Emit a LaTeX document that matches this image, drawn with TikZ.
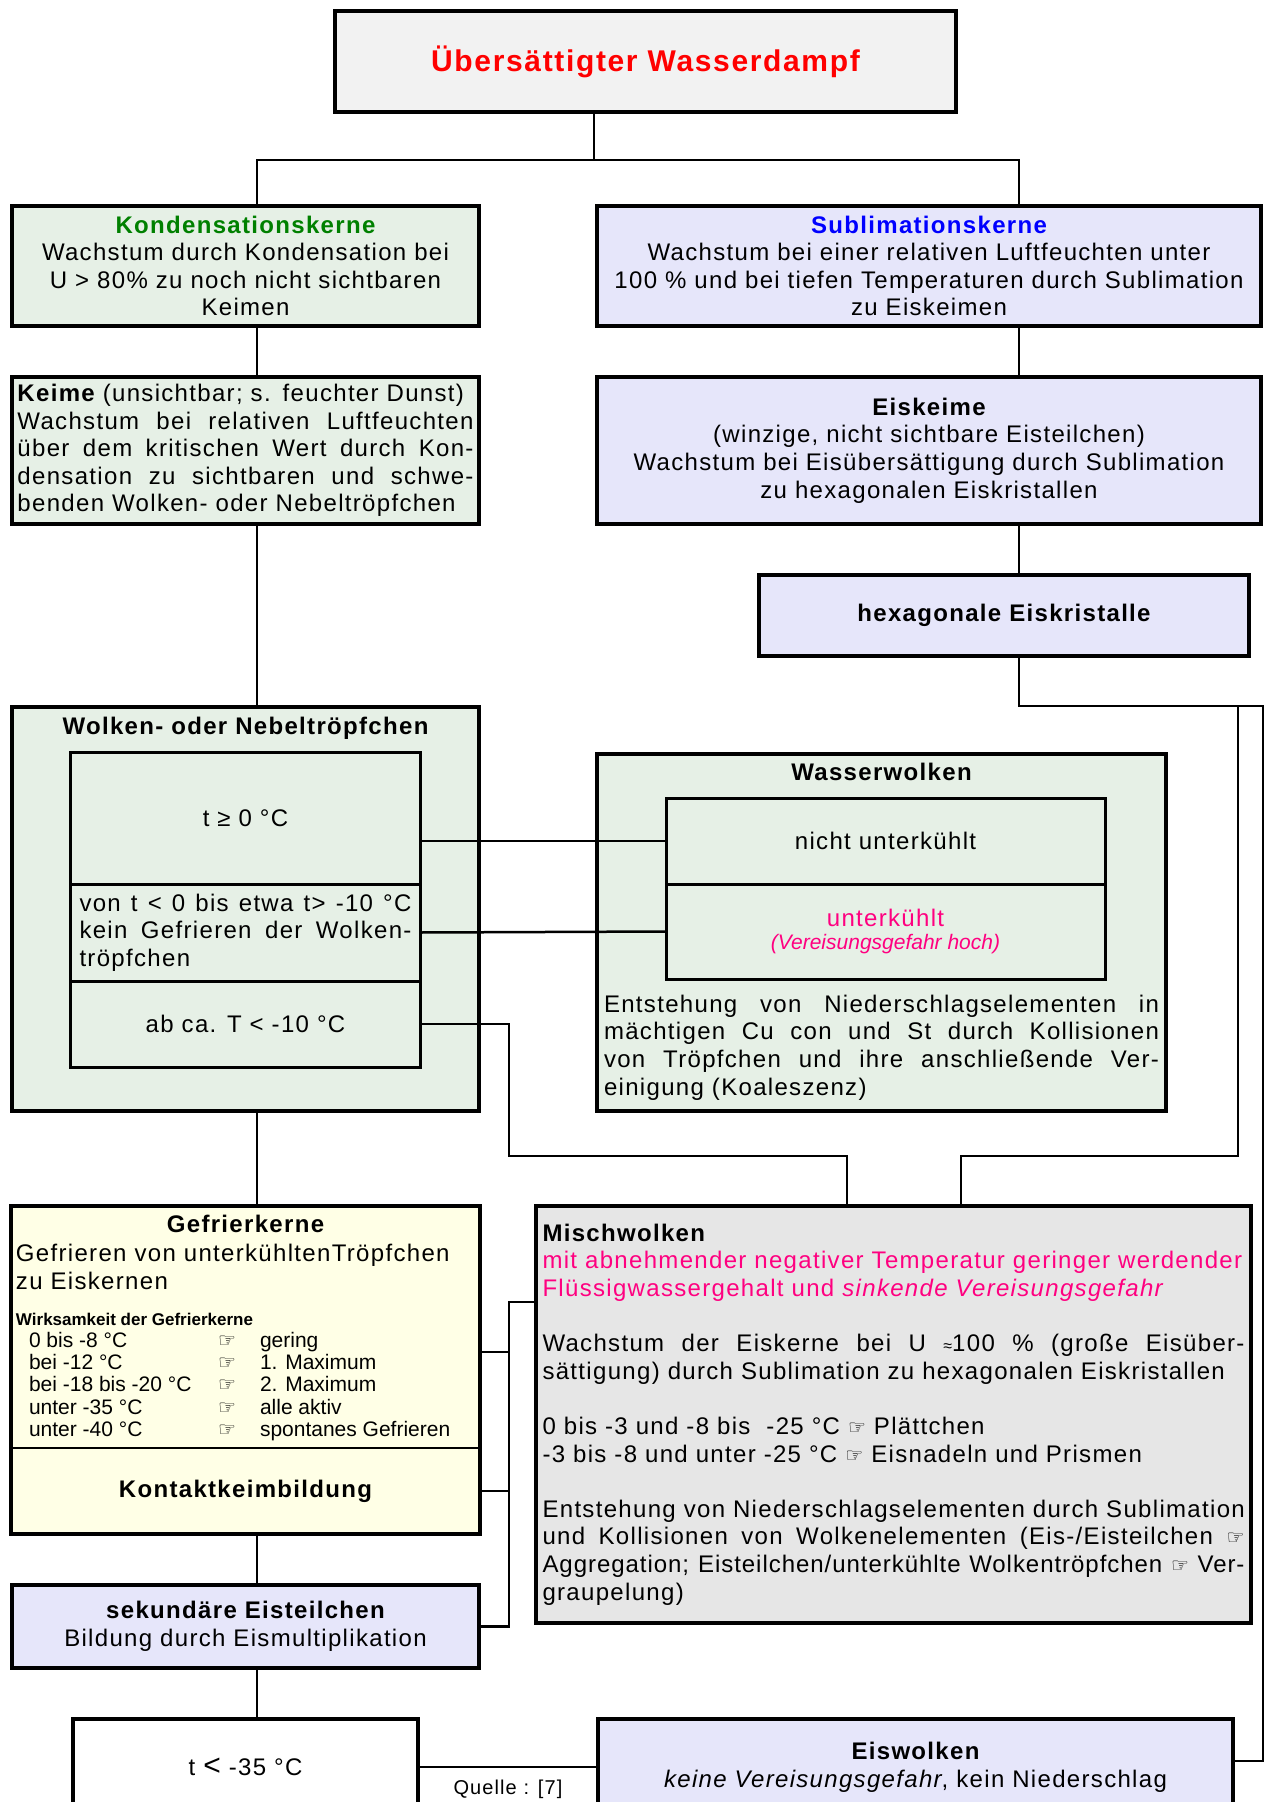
\documentclass[tikz,border=0pt]{standalone}
\usepackage{fontspec}
\setmainfont[LetterSpace=5.5]{Liberation Sans}
\newfontfamily\tightfont{Liberation Sans}
\newfontfamily\midfont[LetterSpace=4]{Liberation Sans}
\newfontfamily\handfont{DejaVu Sans}
\usetikzlibrary{positioning,calc}

\definecolor{vaporgray}{HTML}{F2F2F2}
\definecolor{dropgreen}{HTML}{E6F0E6}
\definecolor{icelilac}{HTML}{E6E6FA}
\definecolor{frostyellow}{HTML}{FFFFE6}
\definecolor{mixgray}{HTML}{E6E6E6}
\definecolor{kerngreen}{HTML}{008000}
\definecolor{hotpink}{HTML}{FF0080}

\newcommand{\hand}{{\handfont\fontsize{10}{10}\selectfont ☞}}
\newcommand{\approxsym}{{\fontsize{8}{8}\selectfont ≈}}
% Blocksatzzeile: Wortabstaende auf die volle Breite dehnen
\newcommand{\jline}[2]{\leavevmode\hbox to #1{\spaceskip=\fontdimen2\font plus 1fil\relax #2}}

\tikzset{
  box/.style={draw, line width=2.4pt, outer sep=0pt, inner sep=0pt, align=center,
    font=\fontsize{12}{13.8}\selectfont},
  cell/.style={draw, line width=1.5pt, outer sep=0pt, inner sep=0pt, align=center,
    font=\fontsize{12}{13.8}\selectfont},
  plain/.style={inner sep=0pt, outer sep=0pt, font=\fontsize{12}{13.8}\selectfont},
  heading/.style={plain, font=\fontsize{12}{13.8}\selectfont\bfseries},
  link/.style={line width=1.25pt}
}

\begin{document}
\begin{tikzpicture}[x=0.5pt,y=-0.5pt,on grid]
	\useasboundingbox (0,0) rectangle (1266,1802);
	\clip (0,0) rectangle (1266,1802);

	\node[box,fill=vaporgray,minimum width=310.5pt,minimum height=50.5pt,text=red,
		font=\fontsize{15}{18}\selectfont\bfseries] (vapor) at (645.5,61.5) {Übersättigter Wasserdampf};

	% linke Spalte
	\node[box,fill=dropgreen,minimum width=233.5pt,minimum height=60pt] (kond) at (245.5,266)
		{{\color{kerngreen}\bfseries Kondensationskerne}\\Wachstum durch Kondensation bei\\U > 80\% zu noch nicht sichtbaren\\Keimen};
	\node[box,fill=dropgreen,minimum width=233.5pt,minimum height=73.5pt,text width=228pt,align=left,
		below=92.25pt of kond] (keime)
		{{\bfseries Keime} (unsichtbar; s. feuchter Dunst)\\
		\jline{228pt}{Wachstum bei relativen Luftfeuchten}\\
		\jline{228pt}{über dem kritischen Wert durch Kon-}\\
		\jline{228pt}{densation zu sichtbaren und schwe-}\\
		benden Wolken- oder Nebeltröpfchen};
	\node[box,fill=dropgreen,minimum width=233.5pt,minimum height=202pt,below=229.25pt of keime] (wolken) {};
	\node[heading] (wolkenTitle) at ($(wolken.north)+(0,-10.5pt)$) {Wolken- oder Nebeltröpfchen};
	\node[cell,minimum width=175pt,minimum height=66pt,above=45.5pt of wolken] (warm) {t ≥ 0 °C};
	\node[cell,minimum width=175pt,minimum height=48.5pt,text width=166pt,align=left,below=57.25pt of warm] (cool)
		{\jline{166pt}{von t < 0 bis etwa t> -10 °C}\\
		\jline{166pt}{kein Gefrieren der Wolken-}\\
		tröpfchen};
	\node[cell,minimum width=175pt,minimum height=43pt,below=45.75pt of cool] (cold) {ab ca. T < -10 °C};

	\node[box,fill=frostyellow,minimum width=234.5pt,minimum height=164pt,below=230.5pt of wolken] (gefrier) {};
	\node[heading] (gefTitle) at ($(gefrier.north)+(0,-9pt)$) {Gefrierkerne};
	\node[plain,anchor=west,align=left] (gefText) at ($(gefrier.north west)+(2.5pt,-30.5pt)$)
		{Gefrieren von unterkühltenTröpfchen\\zu Eiskernen};
	\node[plain,anchor=west,font=\tightfont\fontsize{8.5}{10}\selectfont\bfseries] (gefHead)
		at ($(gefrier.north west)+(2.5pt,-56.5pt)$) {Wirksamkeit der Gefrierkerne};
	\node[plain,anchor=base west,font=\tightfont\fontsize{10.5}{11.2}\selectfont] (gefTable)
		at ($(gefrier.north west)+(9pt,-70.5pt)$)
		{\begin{tabular}[t]{@{}p{94.5pt}@{}p{21pt}@{}l@{}}
		0 bis -8 °C & \hand & gering\\
		bei -12 °C & \hand & 1. Maximum\\
		bei -18 bis -20 °C & \hand & 2. Maximum\\
		unter -35 °C & \hand & alle aktiv\\
		unter -40 °C & \hand & spontanes Gefrieren
		\end{tabular}};
	\coordinate (gefSplit) at (0,1448);
	\draw[line width=1.2pt] (gefrier.west |- gefSplit) -- (gefrier.east |- gefSplit);
	\node[heading] (kontakt) at ($(gefrier.south)+(0,21.5pt)$) {Kontaktkeimbildung};

	\node[box,fill=icelilac,minimum width=233.5pt,minimum height=41.5pt,below=128.25pt of gefrier] (sek)
		{{\bfseries sekundäre Eisteilchen}\\Bildung durch Eismultiplikation};
	\node[box,fill=white,minimum width=172.5pt,minimum height=48pt,below=70.25pt of sek] (cold35)
		{t {\fontsize{15}{15}\selectfont<} -35 °C};

	% rechte Spalte
	\node[box,fill=icelilac,minimum width=332pt,minimum height=60pt,right=341.75pt of kond] (subl)
		{{\color{blue}\bfseries Sublimationskerne}\\Wachstum bei einer relativen Luftfeuchten unter\\100 \% und bei tiefen Temperaturen durch Sublimation\\zu Eiskeimen};
	\node[box,fill=icelilac,minimum width=332pt,minimum height=73.5pt,below=92.25pt of subl] (eiskeime)
		{{\bfseries Eiskeime}\\(winzige, nicht sichtbare Eisteilchen)\\Wachstum bei Eisübersättigung durch Sublimation\\zu hexagonalen Eiskristallen};
	\node[box,fill=icelilac,minimum width=245pt,minimum height=40.5pt,font=\fontsize{12}{13.8}\selectfont\bfseries,
		below right=82.5pt and 37.5pt of eiskeime] (hex) {hexagonale Eiskristalle};

	\node[box,fill=dropgreen,minimum width=284.5pt,minimum height=178.5pt,below right=11.75pt and 318pt of wolken] (wasser) {};
	\node[heading] (wasserTitle) at ($(wasser.north)+(0,-9pt)$) {Wasserwolken};
	\node[cell,minimum width=219.5pt,minimum height=43pt,above right=45.75pt and 2pt of wasser] (plus) {nicht unterkühlt};
	\node[cell,minimum width=219.5pt,minimum height=47.5pt,below=45.25pt of plus] (minus)
		{{\color{hotpink}unterkühlt}\\[-2pt]{\color{hotpink}\tightfont\fontsize{10.5}{12}\selectfont\itshape (Vereisungsgefahr hoch)}};
	\node[plain,text width=277.5pt,align=left,below=57.5pt of wasser] (wasserText)
		{\jline{277.5pt}{Entstehung von Niederschlagselementen in}\\
		\jline{277.5pt}{mächtigen Cu con und St durch Kollisionen}\\
		\jline{277.5pt}{von Tröpfchen und ihre anschließende Ver-}\\
		einigung (Koaleszenz)};

	\node[box,fill=mixgray,minimum width=357.5pt,minimum height=208.5pt,text width=351pt,align=left,
		below right=22.25pt and 324pt of gefrier] (misch)
		{{\bfseries Mischwolken}\\
		{\color{hotpink}mit abnehmender negativer Temperatur geringer werdender}\\
		{\color{hotpink}Flüssigwassergehalt und \itshape sinkende Vereisungsgefahr}\\[13.8pt]
		\jline{351pt}{Wachstum der Eiskerne bei U \approxsym100 \% (große Eisüber-}\\
		sättigung) durch Sublimation zu hexagonalen Eiskristallen\\[13.8pt]
		0 bis -3 und -8 bis\ \ -25 °C \hand{} Plättchen\\
		-3 bis -8 und unter -25 °C \hand{} Eisnadeln und Prismen\\[13.8pt]
		\jline{351pt}{Entstehung von Niederschlagselementen durch Sublimation}\\
		\jline{351pt}{und Kollisionen von Wolkenelementen (Eis-/Eisteilchen \hand}\\
		\jline{351pt}{\midfont Aggregation; Eisteilchen/unterkühlte Wolkentröpfchen \hand{} Ver-}\\
		graupelung)};

	\node[box,fill=icelilac,minimum width=317.5pt,minimum height=48pt,right=335pt of cold35] (eis)
		{{\bfseries Eiswolken}\\{\itshape keine Vereisungsgefahr}, kein Niederschlag};

	% Verbindungen
	\coordinate (lcol) at (257,0);
	\coordinate (rcol) at (1019,0);
	\coordinate (split) at (594,160);
	\coordinate (mbus) at (509,1302);
	\coordinate (mknee) at (0,1156);
	\coordinate (mtap) at (1238,706);
	\coordinate (redge) at (1263,706);
	\coordinate (mtapL) at ([xshift=-23.25pt]misch.north);
	\coordinate (mtapR) at ([xshift=33.75pt]misch.north);

	\draw[link] (vapor.south -| split) -- (split);
	\draw[link] (kond.north -| lcol) |- (split) -| (subl.north -| rcol);
	\draw[link] (kond.south -| lcol) -- (keime.north -| lcol);
	\draw[link] (keime.south -| lcol) -- (wolken.north -| lcol);
	\draw[link] (wolken.south -| lcol) -- (gefrier.north -| lcol);
	\draw[link] (gefrier.south -| lcol) -- (sek.north -| lcol);
	\draw[link] (sek.south -| lcol) -- (cold35.north -| lcol);
	\draw[link] (subl.south -| rcol) -- (eiskeime.north -| rcol);
	\draw[link] (eiskeime.south -| rcol) -- (hex.north -| rcol);
	\draw[link] (hex.south -| rcol) |- (redge) |- ([yshift=3pt]eis.east);
	\draw[link] (mtap) |- (mknee -| mtapR) -- (mtapR);
	\draw[link] (warm.east |- plus) -- (plus.west);
	\draw[link] (cool.east) -- (minus.west);
	\draw[link] (cold.east) -| (mbus |- mknee) -| (mtapL);
	\draw[link] (misch.west |- mbus) -- (mbus) |- (sek.east);
	\draw[link] ([yshift=9pt]gefrier.east) coordinate (gefOut) -- (gefOut -| mbus);
	\draw[link] (kontakt -| gefrier.east) -- (kontakt -| mbus);
	\draw[link] (cold35.east) -- (eis.west)
		node[midway,yshift=-11pt,font=\fontsize{10}{12}\selectfont] (quelle) {Quelle : [7]};
\end{tikzpicture}
\end{document}
